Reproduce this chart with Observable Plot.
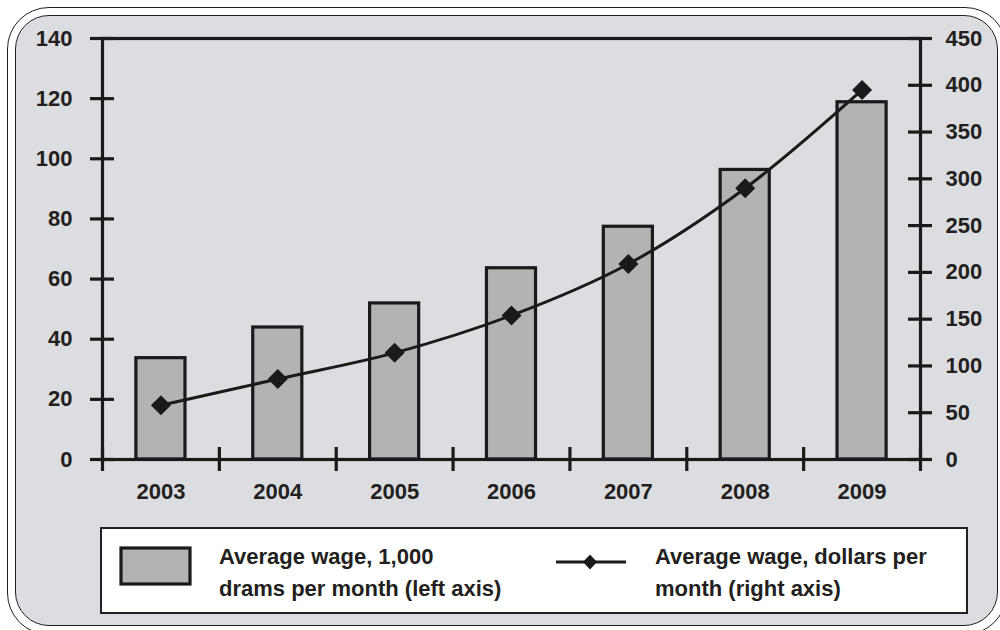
<!DOCTYPE html>
<html>
<head>
<meta charset="utf-8">
<script src="https://cdn.jsdelivr.net/npm/d3@7"></script>
<script src="https://cdn.jsdelivr.net/npm/@observablehq/plot@0.6"></script>
<style>
  html, body { margin: 0; padding: 0; background: #ffffff; }
  #page { position: relative; width: 1000px; height: 630px; overflow: hidden;
          font-family: "Liberation Sans", Arial, sans-serif; font-weight: bold; color: #231f20; }
  .outer { position: absolute; left: 7px; top: 7px; width: 1000px; height: 628px;
           border: 1.5px solid #231f20; border-radius: 42px; box-sizing: border-box; }
  .inner { position: absolute; left: 15px; top: 15px; width: 983px; height: 611px;
           border: 1.5px solid #231f20; border-radius: 34px; box-sizing: border-box; background: #dcdde0; }
  #chart { position: absolute; left: 0; top: 0; }
  .legend { position: absolute; left: 100px; top: 527px; width: 868px; height: 87px;
            border: 2.5px solid #231f20; box-sizing: border-box; background: #ffffff; }
  .ltext { position: absolute; font-size: 22px; line-height: 31.7px; white-space: nowrap; }
</style>
</head>
<body>
<div id="page">
  <div class="outer"></div>
  <div class="inner"></div>
  <div id="chart"></div>
  <div class="legend"></div>
  <svg style="position:absolute;left:119px;top:546px" width="74" height="40">
    <rect x="2" y="2" width="69" height="36" fill="#b3b3b3" stroke="#1a1a1a" stroke-width="3.2"></rect>
  </svg>
  <div class="ltext" style="left:219px;top:541px">Average wage, 1,000<br>drams per month (left axis)</div>
  <svg style="position:absolute;left:554px;top:550px" width="76" height="24">
    <line x1="2" y1="12" x2="72" y2="12" stroke="#1a1a1a" stroke-width="3"></line>
    <path d="M36,4.5 L43,12 L36,19.5 L29,12 Z" fill="#1a1a1a"></path>
  </svg>
  <div class="ltext" style="left:655px;top:541px">Average wage, dollars per<br>month (right axis)</div>
</div>
<script>
// Data
const years = [2003, 2004, 2005, 2006, 2007, 2008, 2009];
const wageDrams = [33.7, 43.9, 51.9, 63.6, 77.4, 96.3, 118.8];   // thousand drams per month (left axis)
const wageUSD = [58, 86, 114, 154, 209, 290, 395];              // dollars per month (right axis)
const leftTicks = [0, 20, 40, 60, 80, 100, 120, 140];
const rightTicks = [0, 50, 100, 150, 200, 250, 300, 350, 400, 450];

const leftMax = 140, rightMax = 450;
const toLeft = v => v * leftMax / rightMax;

const data = years.map((y, i) => ({year: y, drams: wageDrams[i], usd: wageUSD[i]}));
const xMin = years[0] - 0.5, xMax = years[years.length - 1] + 0.5;
const boundaries = [xMin, ...years.map(y => y + 0.5)];

const ink = "#1a1a1a";
const halfBar = 0.21;
const sw = 3.2;

const chart = Plot.plot({
  width: 1000,
  height: 510,
  marginLeft: 102,
  marginRight: 80,
  marginTop: 38,
  marginBottom: 51,
  style: {fontFamily: "'Liberation Sans', Arial, sans-serif", fontSize: "22px", fontWeight: "bold", color: "#231f20", background: "transparent", overflow: "visible"},
  x: {domain: [xMin, xMax]},
  y: {domain: [0, leftMax]},
  marks: [
    Plot.rectY(data, {x1: d => d.year - halfBar, x2: d => d.year + halfBar, y: "drams", fill: "#b3b3b3", stroke: ink, strokeWidth: sw}),
    Plot.frame({stroke: ink, strokeWidth: sw}),
    // left axis: crossing ticks + labels
    Plot.ruleY(leftTicks, {y: d => d, x1: xMin, x2: xMin, insetLeft: -12, insetRight: -12, stroke: ink, strokeWidth: sw}),
    Plot.axisY(leftTicks, {anchor: "left", tickSize: 0, tickPadding: 30, tickFormat: d => String(d), label: null}),
    // right axis (dollars), mapped onto the left scale
    Plot.ruleY(rightTicks.map(toLeft), {y: d => d, x1: xMax, x2: xMax, insetLeft: -12, insetRight: -12, stroke: ink, strokeWidth: sw}),
    Plot.axisY(rightTicks.map(toLeft), {anchor: "right", tickSize: 0, tickPadding: 25, tickFormat: d => String(Math.round(d * rightMax / leftMax)), label: null}),
    // x axis: boundary ticks crossing the axis + year labels
    Plot.ruleX(boundaries, {x: d => d, y1: 0, y2: 0, insetTop: -12, insetBottom: -12, stroke: ink, strokeWidth: sw}),
    Plot.axisX(years, {anchor: "bottom", tickSize: 0, tickPadding: 24, tickFormat: d => String(d), label: null}),
    Plot.line(data, {x: "year", y: d => toLeft(d.usd), curve: "catmull-rom", stroke: ink, strokeWidth: 3}),
    Plot.dot(data, {x: "year", y: d => toLeft(d.usd), symbol: "square", rotate: 45, r: 8, fill: ink, stroke: "none"})
  ]
});
document.getElementById("chart").appendChild(chart);
</script>
</body>
</html>
